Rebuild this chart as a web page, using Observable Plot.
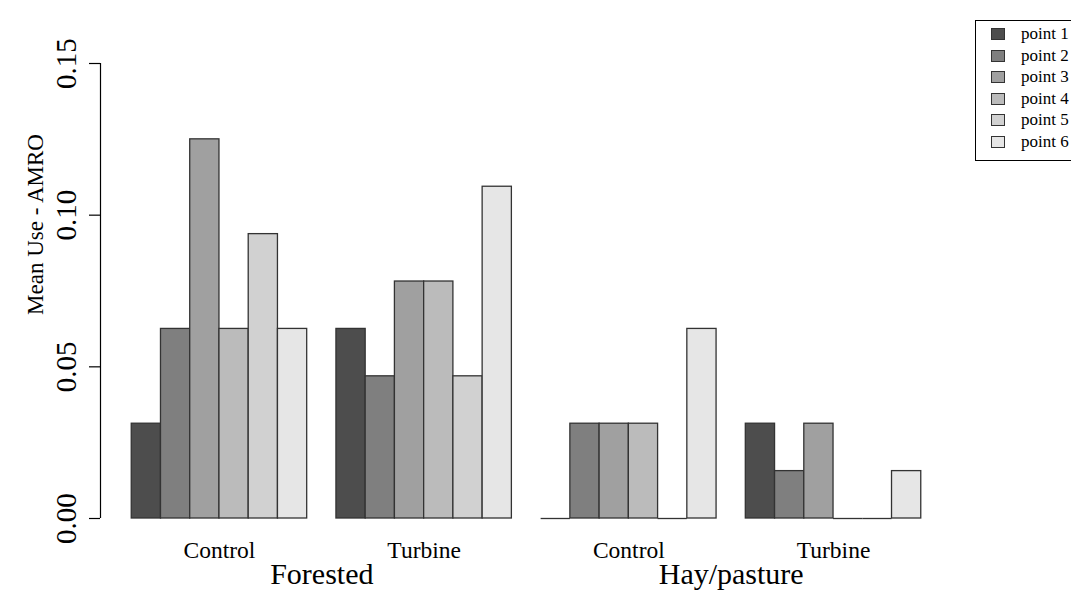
<!DOCTYPE html>
<html>
<head>
<meta charset="utf-8">
<script src="https://cdn.jsdelivr.net/npm/d3@7"></script>
<script src="https://cdn.jsdelivr.net/npm/@observablehq/plot@0.6"></script>
<style>
  html, body { margin: 0; padding: 0; background: #fff; overflow: hidden; }
  #wrap { position: relative; width: 1071px; height: 594px; }
  #legend {
    position: absolute; left: 975px; top: 20px; width: 110px; height: 141px;
    border: 1px solid #000; box-sizing: border-box; background: #fff;
    font-family: "Liberation Serif", serif; font-size: 17px; color: #000;
  }
  .row { position: absolute; left: 0; height: 22px; display: flex; align-items: center; }
  .sw { width: 14px; height: 12px; border: 1px solid #333; box-sizing: border-box; margin-left: 15px; margin-right: 16px; }
</style>
</head>
<body>
<div id="wrap"></div>
<script>
const points = ["point 1", "point 2", "point 3", "point 4", "point 5", "point 6"];
const pointColors = ["#4D4D4D", "#7F7F7F", "#A0A0A0", "#BBBBBB", "#D1D1D1", "#E6E6E6"];
const treatments = ["Control", "Turbine", "Control", "Turbine"];
const habitats = ["Forested", "Hay/pasture"];
const forestedControl = [0.03125, 0.0625, 0.125, 0.0625, 0.09375, 0.0625];
const forestedTurbine = [0.0625, 0.046875, 0.078125, 0.078125, 0.046875, 0.109375];
const hayControl = [0, 0.03125, 0.03125, 0.03125, 0, 0.0625];
const hayTurbine = [0.03125, 0.015625, 0.03125, 0, 0, 0.015625];
const yTicks = [0, 0.05, 0.10, 0.15];
const yTitle = "Mean Use - AMRO";

const series = [forestedControl, forestedTurbine, hayControl, hayTurbine];
const n = points.length;
const step = n + 1;
const data = [];
series.forEach((vals, g) => vals.forEach((v, p) => data.push({
  group: g, treatment: treatments[g], point: points[p], value: v, slot: g * step + 1 + p
})));

const font = "Liberation Serif";
const chart = Plot.plot({
  width: 1071,
  height: 594,
  marginLeft: 102,
  marginRight: 121,
  marginTop: 63,
  marginBottom: 76,
  style: { fontFamily: font, background: "white", color: "black" },
  x: { domain: [0, series.length * step + 1], axis: null },
  y: { domain: [0, 0.15], axis: null },
  color: { domain: points, range: pointColors },
  marks: [
    Plot.rectY(data.filter(d => d.value > 0), {
      x1: "slot", x2: d => d.slot + 1, y1: 0, y2: "value",
      fill: "point", stroke: "#333", strokeWidth: 1.3
    }),
    Plot.ruleY(data.filter(d => d.value === 0), {
      x1: "slot", x2: d => d.slot + 1, y: 0, stroke: "#333", strokeWidth: 1.3
    }),
    Plot.ruleX([0], { y1: d3.min(yTicks), y2: d3.max(yTicks), stroke: "black", strokeWidth: 1.2, dx: -2 }),
    Plot.axisY({ ticks: yTicks, tickSize: 11, tickFormat: () => "", label: null, stroke: "black", strokeWidth: 1.2, dx: -2 }),
    Plot.text(yTicks, {
      y: d => d, text: d => d3.format(".2f")(d), frameAnchor: "left", textAnchor: "middle",
      rotate: -90, dx: -36, fontSize: 29, fill: "black"
    }),
    Plot.text([yTitle], {
      text: d => d, frameAnchor: "top-left", textAnchor: "middle", rotate: -90, dx: -76, dy: 161,
      fontSize: 23, fill: "black"
    }),
    Plot.text(treatments, {
      x: (d, i) => i * step + 1 + n / 2, text: d => d, frameAnchor: "bottom",
      lineAnchor: "bottom", dy: 39, fontSize: 23.5, fill: "black"
    }),
    Plot.text(habitats, {
      x: (d, i) => i * 2 * step + step + 0.5, text: d => d, frameAnchor: "bottom",
      lineAnchor: "bottom", dy: 65, fontSize: 30, fill: "black"
    })
  ]
});
const wrap = document.getElementById("wrap");
wrap.appendChild(chart);

const legend = document.createElement("div");
legend.id = "legend";
points.forEach((p, i) => {
  const row = document.createElement("div");
  row.className = "row";
  row.style.top = (i * 21.6 + 2) + "px";
  const sw = document.createElement("div");
  sw.className = "sw";
  sw.style.background = pointColors[i];
  const lab = document.createElement("span");
  lab.textContent = p;
  row.appendChild(sw);
  row.appendChild(lab);
  legend.appendChild(row);
});
wrap.appendChild(legend);
</script>
</body>
</html>
